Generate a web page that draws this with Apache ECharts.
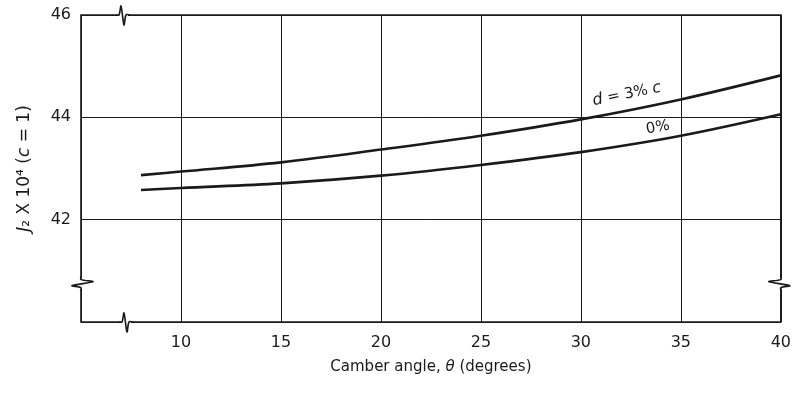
<!DOCTYPE html>
<html><head><meta charset="utf-8">
<script src="https://cdn.jsdelivr.net/npm/echarts@6/dist/echarts.min.js"></script>
<style>html,body{margin:0;padding:0;background:#fff}#c{width:794px;height:393px}</style>
</head><body><div id="c"></div>
<script>
// Data
const theta = [8, 10, 15, 20, 25, 30, 35, 40];
const j2Camber3 = [42.87, 42.94, 43.12, 43.37, 43.64, 43.96, 44.35, 44.82];
const j2Camber0 = [42.58, 42.62, 42.71, 42.86, 43.07, 43.32, 43.64, 44.06];
const xTicks = [10, 15, 20, 25, 30, 35, 40];
const yTicks = [42, 44, 46];
const seriesLabels = ['d = 3% c', '0%'];
const labelAnchors = [[32.3, 44.45], [33.85, 43.8]];
const breakMarks = [[7.1, 46, 0], [7.25, 40, 0], [5, 40.75, 1], [40, 40.75, 2]];

const ink = '#1a1a1a';
const font = 'DejaVu Sans';
const chart = echarts.init(document.getElementById('c'), null, {renderer: 'canvas'});

function zip(xs, ys) { return xs.map((x, i) => [x, ys[i]]); }

chart.setOption({
  animation: false,
  backgroundColor: '#fff',
  textStyle: {fontFamily: font, color: ink},
  grid: {left: 81, right: 12, top: 15, bottom: 71, show: true, borderColor: ink, borderWidth: 1.6, backgroundColor: 'transparent'},
  xAxis: {
    type: 'value', min: 5, max: 40, interval: 5,
    axisLine: {show: false}, axisTick: {show: false},
    splitLine: {show: true, lineStyle: {color: ink, width: 1}},
    axisLabel: {margin: 13, fontSize: 16, color: ink, fontFamily: font,
      formatter: v => xTicks.includes(v) ? String(v) : ''},
    name: '{n|Camber angle, }{i|θ}{n| (degrees)}',
    nameLocation: 'middle', nameGap: 38,
    nameTextStyle: {rich: {
      n: {fontSize: 15, color: ink, fontFamily: font},
      i: {fontSize: 15, color: ink, fontFamily: font, fontStyle: 'italic'}
    }}
  },
  yAxis: {
    type: 'value', min: 40, max: 46, interval: 2,
    axisLine: {show: false}, axisTick: {show: false},
    splitLine: {show: true, lineStyle: {color: ink, width: 1}},
    axisLabel: {margin: 10, fontSize: 16, color: ink, fontFamily: font, padding: [8, 0, 0, 0],
      formatter: v => yTicks.includes(v) ? String(v) : ''},
    name: '{i|J}{n|₂ X 10⁴ (}{i|c}{n| = 1)}',
    nameLocation: 'middle', nameGap: 48, nameRotate: 90,
    nameTextStyle: {rich: {
      n: {fontSize: 17, color: ink, fontFamily: font},
      i: {fontSize: 17, color: ink, fontFamily: font, fontStyle: 'italic'}
    }}
  },
  series: [
    {type: 'line', data: zip(theta, j2Camber3), smooth: 0.35, showSymbol: false,
      lineStyle: {color: ink, width: 2.6}, z: 3},
    {type: 'line', data: zip(theta, j2Camber0), smooth: 0.35, showSymbol: false,
      lineStyle: {color: ink, width: 2.6}, z: 3},
    {type: 'custom', data: breakMarks, clip: false, z: 5, silent: true,
      renderItem: function (params, api) {
        const p = api.coord([api.value(0), api.value(1)]);
        const kind = api.value(2);
        if (kind === 0) {
          return {type: 'group', children: [
            {type: 'rect', shape: {x: p[0] - 5, y: p[1] - 2, width: 10, height: 4}, style: {fill: '#fff'}},
            {type: 'polyline', shape: {points: [[p[0] - 7, p[1]], [p[0] - 4, p[1]], [p[0] - 2, p[1] - 9], [p[0] + 1, p[1] + 10], [p[0] + 3, p[1]], [p[0] + 7, p[1]]], smooth: 0.3},
              style: {stroke: ink, lineWidth: 1.6, fill: null}}
          ]};
        }
        const s = kind === 1 ? 1 : -1;
        return {type: 'group', children: [
          {type: 'rect', shape: {x: p[0] - 2, y: p[1] - 5, width: 4, height: 10}, style: {fill: '#fff'}},
          {type: 'polyline', shape: {points: [[p[0], p[1] - 7], [p[0], p[1] - 4], [p[0] + 12 * s, p[1] - 2], [p[0] - 9 * s, p[1] + 2], [p[0], p[1] + 4], [p[0], p[1] + 7]], smooth: 0.3},
            style: {stroke: ink, lineWidth: 1.6, fill: null}}
        ]};
      }
    },
    {type: 'custom', data: labelAnchors.map((a, i) => [a[0], a[1], i]), clip: false, z: 6, silent: true,
      renderItem: function (params, api) {
        const p = api.coord([api.value(0), api.value(1)]);
        const idx = api.value(2);
        const txt = idx === 0 ? '{i|d}{n| = 3% }{i|c}' : '{n|' + seriesLabels[1] + '}';
        return {type: 'text', x: p[0], y: p[1], rotation: idx === 0 ? 0.2 : 0.17,
          style: {text: txt, align: 'center', verticalAlign: 'middle',
            rich: {
              n: {fontSize: 15, fill: ink, fontFamily: font},
              i: {fontSize: 16, fill: ink, fontFamily: font, fontStyle: 'italic'}
            }}};
      }
    }
  ]
});
</script></body></html>
